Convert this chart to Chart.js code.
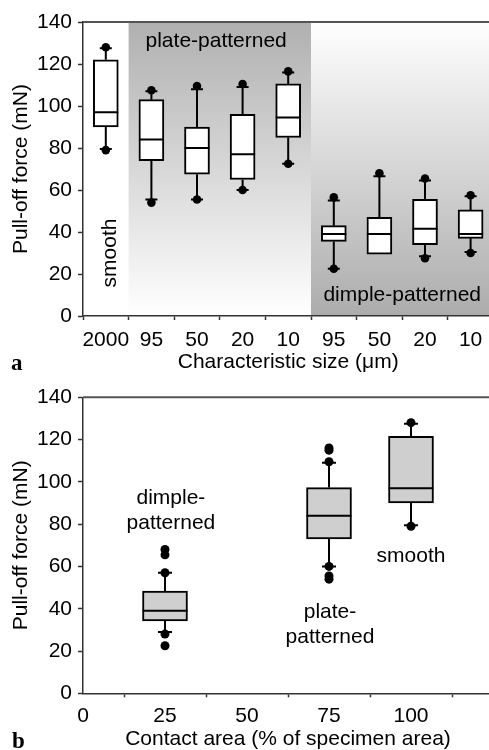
<!DOCTYPE html>
<html><head><meta charset="utf-8">
<script src="https://cdn.jsdelivr.net/npm/chart.js@4/dist/chart.umd.min.js"></script>
<style>
html,body{margin:0;padding:0;background:#fff;overflow:hidden;width:489px;height:750px;position:relative}
.wrap{position:absolute;left:0;width:500px}
#w1{top:0;height:376px}
#w2{top:376px;height:374px}
.lbl{position:absolute;font-family:"Liberation Serif",serif;font-weight:bold;font-size:23px;line-height:1;color:#000}
</style></head><body>
<div id="w1" class="wrap"><canvas id="c1" width="500" height="376"></canvas></div>
<div id="w2" class="wrap"><canvas id="c2" width="500" height="374"></canvas></div>
<div class="lbl" style="left:11px;top:351px">a</div>
<div class="lbl" style="left:12px;top:729px">b</div>
<script>
// ---------- Panel a data ----------
const sizeLabels = ['2000','95','50','20','10','95','50','20','10'];
const aQ1 = [90, 74, 67.5, 65, 85, 35.5, 29.5, 34, 37];
const aQ3 = [122, 103, 90, 96, 110.5, 43, 47, 55.5, 50.5];
const aMedian = [97, 84, 80, 77, 94.5, 39, 39, 41.5, 39];
const aWhiskerLow = [79.5, 55.5, 55.5, 60, 72.5, 22.5, 29.5, 28.5, 30.5];
const aWhiskerHigh = [127.5, 107, 108, 109, 116, 55, 66.5, 64.5, 57];
const aDotHigh = [128, 107.5, 109.5, 110.5, 116.5, 56.5, 68, 65.5, 57.5];
const aDotLow = [79, 54, 55.5, 60, 72.5, 22.5, null, 27.5, 30];

// ---------- Panel b data ----------
const contactArea = [25, 75, 100];
const bQ1 = [34.2, 73, 90];
const bQ3 = [48.4, 97.3, 121.5];
const bMedian = [39, 84, 97];
const bWhiskerLow = [29, 60, 79.5];
const bWhiskerHigh = [57, 109, 127.5];
const bOutlierX = [25, 25, 25, 25, 25, 75, 75, 75, 75, 75, 75, 100, 100];
const bOutlierY = [68, 65.5, 57, 28, 22.5, 116, 115, 109.5, 60, 55.5, 54, 128, 79];

const yTicks = [0, 20, 40, 60, 80, 100, 120, 140];

Chart.defaults.font.family = '"Liberation Sans", Arial, sans-serif';
Chart.defaults.font.size = 21;
Chart.defaults.color = '#000';

const boxPlugin = {
  id: 'boxExtras',
  beforeDraw(chart, args, o) {
    if (!o.bands) return;
    const {ctx, chartArea: a, scales: {x}} = chart;
    ctx.save();
    o.bands.forEach(b => {
      const x0 = x.getPixelForValue(b.from), x1 = Math.min(x.getPixelForValue(b.to), a.right);
      const g = ctx.createLinearGradient(0, a.top, 0, a.bottom);
      g.addColorStop(0, b.top); g.addColorStop(1, b.bottom);
      ctx.fillStyle = g;
      ctx.fillRect(x0, a.top, x1 - x0, a.bottom - a.top);
    });
    ctx.restore();
  },
  beforeDatasetsDraw(chart, args, o) {
    const {ctx, scales: {y}} = chart;
    const meta = chart.getDatasetMeta(0);
    ctx.save();
    ctx.strokeStyle = '#000'; ctx.lineWidth = 2;
    meta.data.forEach((el, i) => {
      const xp = el.x;
      ctx.beginPath();
      ctx.moveTo(xp, y.getPixelForValue(o.q3[i])); ctx.lineTo(xp, y.getPixelForValue(o.wh[i]));
      ctx.moveTo(xp, y.getPixelForValue(o.q1[i])); ctx.lineTo(xp, y.getPixelForValue(o.wl[i]));
      ctx.stroke();
    });
    ctx.restore();
  },
  afterDatasetsDraw(chart, args, o) {
    const {ctx, chartArea: a, scales: {x, y}} = chart;
    const meta = chart.getDatasetMeta(0);
    ctx.save();
    ctx.strokeStyle = '#000'; ctx.lineWidth = 2;
    meta.data.forEach((el, i) => {
      const xp = el.x, hw = el.width / 2;
      ctx.beginPath();
      const ym = y.getPixelForValue(o.med[i]);
      ctx.moveTo(xp - hw, ym); ctx.lineTo(xp + hw, ym);
      const yh = y.getPixelForValue(o.wh[i]);
      ctx.moveTo(xp - o.cap, yh); ctx.lineTo(xp + o.cap, yh);
      if (o.wl[i] < o.q1[i] - 0.1) {
        const yl = y.getPixelForValue(o.wl[i]);
        ctx.moveTo(xp - o.cap, yl); ctx.lineTo(xp + o.cap, yl);
      }
      ctx.stroke();
    });
    // top frame line
    ctx.strokeStyle = '#555'; ctx.lineWidth = 2;
    ctx.beginPath(); ctx.moveTo(a.left, a.top); ctx.lineTo(a.right + 10, a.top); ctx.stroke();
    // annotations
    ctx.fillStyle = '#000';
    ctx.font = '21px "Liberation Sans", Arial, sans-serif';
    ctx.textAlign = 'center'; ctx.textBaseline = 'middle';
    (o.texts || []).forEach(t => {
      const px = x.getPixelForValue(t.x), py = y.getPixelForValue(t.y);
      ctx.save();
      ctx.translate(px, py);
      if (t.rot) ctx.rotate(t.rot);
      const lines = t.text.split('\n');
      lines.forEach((ln, k) => ctx.fillText(ln, 0, (k - (lines.length - 1) / 2) * 25));
      ctx.restore();
    });
    ctx.restore();
  }
};

function yScale(pad) {
  return {
    min: 0, max: 140,
    afterBuildTicks: s => { s.ticks = yTicks.map(v => ({value: v})); },
    ticks: {padding: 6, color: '#000', font: {size: 21}},
    grid: {drawOnChartArea: false, drawTicks: true, tickLength: 5, color: '#333', tickWidth: 1.5},
    border: {display: true, color: '#333', width: 1.5},
    title: {display: true, text: 'Pull-off force (mN)', font: {size: 21, lineHeight: 1}, padding: {top: pad, bottom: 0}},
    afterFit: s => { s.width = 83; }
  };
}

new Chart(document.getElementById('c1'), {
  type: 'bar',
  data: {
    labels: sizeLabels,
    datasets: [
      {data: aQ1.map((v, i) => [v, aQ3[i]]), backgroundColor: '#fff', borderColor: '#000', borderWidth: 2, borderSkipped: false, barThickness: 25},
      {type: 'line', data: aDotHigh, showLine: false, pointRadius: 4.3, pointBackgroundColor: '#000', pointBorderWidth: 0},
      {type: 'line', data: aDotLow, showLine: false, pointRadius: 4.3, pointBackgroundColor: '#000', pointBorderWidth: 0}
    ]
  },
  options: {
    responsive: false, animation: false, devicePixelRatio: 1,
    layout: {padding: {top: 22, right: 6.6, left: 0, bottom: 0}},
    scales: {
      x: {
        type: 'category', offset: true,
        ticks: {autoSkip: false, maxRotation: 0, minRotation: 0, padding: 8, color: '#000', font: {size: 21}},
        grid: {offset: true, drawOnChartArea: false, drawTicks: true, tickLength: 4, color: '#333', tickWidth: 1.5},
        border: {display: true, color: '#333', width: 1.5},
        title: {display: true, text: 'Characteristic size (\u03bcm)', font: {size: 21, lineHeight: 1}, padding: {top: 0, bottom: 3.5}},
        afterFit: s => { s.height = 60; }
      },
      y: yScale(11)
    },
    plugins: {
      legend: {display: false}, tooltip: {enabled: false},
      boxExtras: {
        q1: aQ1, q3: aQ3, med: aMedian, wl: aWhiskerLow, wh: aWhiskerHigh, cap: 6,
        bands: [
          {from: 0.5, to: 4.5, top: '#b0b0b0', bottom: '#ffffff'},
          {from: 4.5, to: 8.5, top: '#ffffff', bottom: '#acacac'}
        ],
        texts: [
          {text: 'plate-patterned', x: 2.42, y: 131},
          {text: 'dimple-patterned', x: 6.5, y: 10},
          {text: 'smooth', x: 0.1, y: 30, rot: -Math.PI / 2}
        ]
      }
    }
  },
  plugins: [boxPlugin]
});

new Chart(document.getElementById('c2'), {
  type: 'bar',
  data: {
    datasets: [
      {data: contactArea.map((x, i) => ({x: x, y: [bQ1[i], bQ3[i]]})), backgroundColor: '#cfcfcf', borderColor: '#000', borderWidth: 2, borderSkipped: false, barThickness: 45},
      {type: 'scatter', data: bOutlierX.map((x, i) => ({x: x, y: bOutlierY[i]})), pointRadius: 4.5, pointBackgroundColor: '#000', pointBorderWidth: 0}
    ]
  },
  options: {
    responsive: false, animation: false, devicePixelRatio: 1,
    layout: {padding: {top: 21.3, right: 7, left: 0, bottom: 0}},
    scales: {
      x: {
        type: 'linear', min: 0, max: 125, offset: false,
        ticks: {stepSize: 25, padding: 6, color: '#000', font: {size: 21}, maxRotation: 0,
                callback: v => (v > 100 ? '' : v)},
        grid: {drawOnChartArea: false, drawTicks: true, tickLength: 4, color: '#333', tickWidth: 1.5},
        border: {display: true, color: '#333', width: 1.5},
        title: {display: true, text: 'Contact area (% of specimen area)', font: {size: 21, lineHeight: 1}, padding: {top: 0, bottom: 0}},
        afterFit: s => { s.height = 56.7; }
      },
      y: yScale(11)
    },
    plugins: {
      legend: {display: false}, tooltip: {enabled: false},
      boxExtras: {
        q1: bQ1, q3: bQ3, med: bMedian, wl: bWhiskerLow, wh: bWhiskerHigh, cap: 7,
        texts: [
          {text: 'dimple-\npatterned', x: 26.8, y: 86.5},
          {text: 'smooth', x: 100, y: 65},
          {text: 'plate-\npatterned', x: 75.3, y: 32.5}
        ]
      }
    }
  },
  plugins: [boxPlugin]
});
</script>
</body></html>
